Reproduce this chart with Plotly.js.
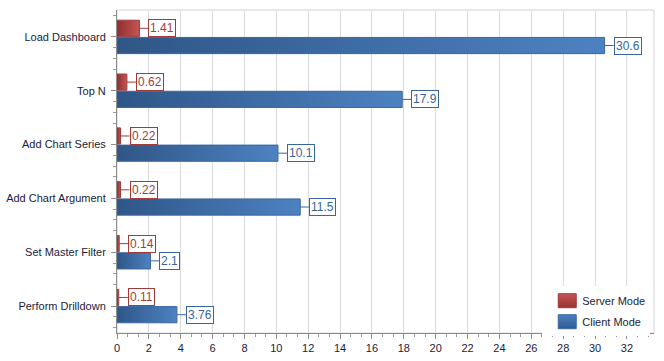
<!DOCTYPE html>
<html><head><meta charset="utf-8">
<script src="https://cdn.plot.ly/plotly-3.0.1.min.js"></script>
<style>html,body{margin:0;padding:0;background:#fff}#chart{width:664px;height:361px}</style>
</head><body><div id="chart"></div>
<script>
const categories = ['Load Dashboard', 'Top N', 'Add Chart Series', 'Add Chart Argument', 'Set Master Filter', 'Perform Drilldown'];
const seriesNames = ['Server Mode', 'Client Mode'];
const serverMode = [1.41, 0.62, 0.22, 0.22, 0.14, 0.11];
const clientMode = [30.6, 17.9, 10.1, 11.5, 2.1, 3.76];
const xTickVals = [0, 2, 4, 6, 8, 10, 12, 14, 16, 18, 20, 22, 24, 26, 28, 30, 32];

const idx = categories.map((c, i) => i);
const RED_LINE = '#a23a3a', BLUE_LINE = '#3a66a0';
const RED_TXT = '#a33c3c', BLUE_TXT = '#3864a0';
const FONT = 'Tahoma, "Liberation Sans", Arial, sans-serif';

const traces = [
  {type: 'bar', orientation: 'h', name: seriesNames[0], y: idx, x: serverMode, legendgroup: 'a',
   marker: {color: '#b84848', line: {color: RED_LINE, width: 1}}, hoverinfo: 'x+name'},
  {type: 'bar', orientation: 'h', name: seriesNames[1], y: idx, x: clientMode, legendgroup: 'b',
   marker: {color: '#4271ab', line: {color: BLUE_LINE, width: 1}}, hoverinfo: 'x+name'}
];

const annotations = [];
function addLabels(vals, off, lineColor, txtColor) {
  vals.forEach((v, i) => {
    annotations.push({x: v, y: i + off, xref: 'x', yref: 'y', text: String(v),
      showarrow: true, arrowhead: 0, arrowwidth: 1, arrowcolor: lineColor,
      ax: 9, ay: 0, xanchor: 'left', yanchor: 'middle', standoff: 0,
      bgcolor: '#ffffff', bordercolor: lineColor, borderwidth: 1, borderpad: 1,
      font: {family: FONT, size: 12, color: txtColor}});
  });
}
addLabels(serverMode, -0.16, RED_LINE, RED_TXT);
addLabels(clientMode, 0.16, BLUE_LINE, BLUE_TXT);

const minorY = [];
idx.forEach(i => { minorY.push(i - 0.4, i + 0.2, i + 0.4); });

const layout = {
  width: 664, height: 361,
  margin: {l: 117, r: 10, t: 10, b: 28},
  paper_bgcolor: '#ffffff', plot_bgcolor: '#ffffff',
  barmode: 'group', bargap: 0.36, bargroupgap: 0.06,
  font: {family: FONT, size: 11, color: '#1c1c3a'},
  xaxis: {range: [0, 33.7], tickvals: xTickVals, ticktext: xTickVals.map(String),
    showgrid: true, gridcolor: '#dcdcdc', gridwidth: 1, zeroline: false,
    showline: true, linecolor: '#8c8c8c', linewidth: 1,
    ticks: 'outside', ticklen: 5, tickcolor: '#8c8c8c',
    minor: {dtick: 2 / 3, tick0: 0, ticks: 'outside', ticklen: 3, tickcolor: '#9a9a9a', showgrid: false},
    tickfont: {family: FONT, size: 11, color: '#1c1c3a'}, fixedrange: true},
  yaxis: {range: [5.5, -0.5], tickvals: idx, ticktext: categories,
    showgrid: false, zeroline: false, showline: true, linecolor: '#8c8c8c', linewidth: 1,
    ticks: 'outside', ticklen: 5, tickcolor: '#8c8c8c', ticklabelstandoff: 3,
    minor: {tickmode: 'array', tickvals: minorY, ticks: 'outside', ticklen: 3, tickcolor: '#9a9a9a', showgrid: false},
    tickfont: {family: FONT, size: 11, color: '#1c1c3a'}, fixedrange: true},
  shapes: [{type: 'rect', xref: 'paper', yref: 'paper', x0: 0, x1: 1, y0: 0, y1: 1,
    line: {color: '#d4d4d4', width: 1}, layer: 'below'}],
  legend: {x: 0.993, xanchor: 'right', y: -0.01, yanchor: 'bottom', bgcolor: '#ffffff',
    font: {family: FONT, size: 11, color: '#1c1c3a'}, traceorder: 'grouped', tracegroupgap: 2},
  annotations: annotations
};

Plotly.newPlot('chart', traces, layout, {displayModeBar: false, staticPlot: true}).then(gd => {
  const NS = 'http://www.w3.org/2000/svg';
  const svg = gd.querySelector('.main-svg');
  let defs = svg.querySelector('defs');
  if (!defs) { defs = document.createElementNS(NS, 'defs'); svg.insertBefore(defs, svg.firstChild); }
  function grad(id, c1, c2, vertical) {
    const g = document.createElementNS(NS, 'linearGradient');
    g.setAttribute('id', id);
    g.setAttribute('x1', '0'); g.setAttribute('y1', '0');
    g.setAttribute('x2', vertical ? '0' : '1'); g.setAttribute('y2', vertical ? '1' : '0');
    [[0, c1], [1, c2]].forEach(([o, c]) => {
      const s = document.createElementNS(NS, 'stop');
      s.setAttribute('offset', o); s.setAttribute('stop-color', c);
      g.appendChild(s);
    });
    defs.appendChild(g);
  }
  grad('gRed', '#8e2f2f', '#c85555', false);
  grad('gBlue', '#2f5687', '#4d82c2', false);
  grad('gRedL', '#c85454', '#953232', true);
  grad('gBlueL', '#4b80c1', '#2f5a90', true);
  const barTraces = gd.querySelectorAll('.barlayer .trace');
  barTraces.forEach((t, k) => {
    t.querySelectorAll('.point path').forEach(p => { p.style.fill = k === 0 ? 'url(#gRed)' : 'url(#gBlue)'; });
  });
  const legTraces = gd.querySelectorAll('.legend .traces');
  legTraces.forEach((t, k) => {
    t.querySelectorAll('.legendpoints path').forEach(p => {
      p.setAttribute('d', 'M14,7H-4V-7H14Z');
      p.style.fill = k === 0 ? 'url(#gRedL)' : 'url(#gBlueL)';
    });
  });
});
</script>
</body></html>
